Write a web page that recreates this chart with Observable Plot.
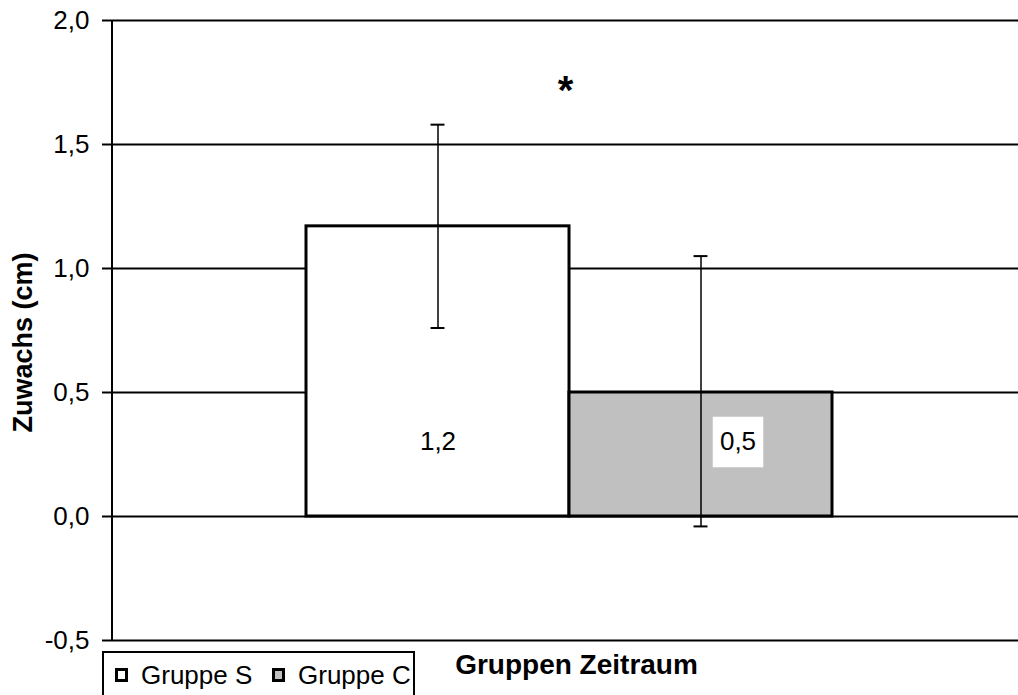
<!DOCTYPE html>
<html><head><meta charset="utf-8">
<script src="https://cdn.jsdelivr.net/npm/d3@7"></script>
<script src="https://cdn.jsdelivr.net/npm/@observablehq/plot@0.6"></script>
<style>
body{margin:0;background:#fff;font-family:"Liberation Sans",Arial,sans-serif;}
#wrap{position:relative;width:1018px;height:695px;overflow:hidden;background:#fff;}
#legend{position:absolute;left:102px;top:651px;width:309px;height:60px;border:2px solid #000;background:#fff;font-size:26px;line-height:26px;white-space:nowrap;}
#legend .item{position:absolute;top:9px;display:flex;align-items:center;}
#legend .sw{display:inline-block;width:7px;height:8px;border:3px solid #000;margin-right:13px;}
</style></head><body>
<div id="wrap"><div id="chart"></div><div id="legend"></div></div>
<script>
// ---- data ----
const groups = ["Gruppe S", "Gruppe C"];
const means = [1.17, 0.50];
const errLow = [0.76, -0.04];
const errHigh = [1.58, 1.05];
const fillColors = ["#ffffff", "#c0c0c0"];
const yTicks = [-0.5, 0.0, 0.5, 1.0, 1.5, 2.0];
const significance = [{symbol: "*", y: 1.74}];
const xTitle = "Gruppen Zeitraum";
const yTitle = "Zuwachs (cm)";

const fmt = d => d3.format(".1f")(d).replace(".", ",").replace("−", "-");
const rows = groups.map((g, i) => ({group: g, mean: means[i], lo: errLow[i], hi: errHigh[i], label: fmt(means[i])}));

const W = 1018, H = 695, mL = 112, mR = 0, mT = 20, mB = 55;
const padOuter = 0.722, align = 0.51;
const step = (W - mL - mR) / (groups.length + 2 * padOuter);
const capW = 14, capInset = (step - capW) / 2;
const labelY = 0.30;
const font = "'Liberation Sans', Arial, sans-serif";

const chart = Plot.plot({
  width: W, height: H,
  marginLeft: mL, marginRight: mR, marginTop: mT, marginBottom: mB,
  style: {fontFamily: font, fontSize: "26px", color: "#000", background: "#fff", overflow: "visible"},
  x: {type: "band", domain: groups, paddingInner: 0, paddingOuter: padOuter, align, axis: null},
  y: {domain: [-0.5, 2.0], axis: null},
  color: {domain: groups, range: fillColors},
  marks: [
    Plot.ruleY(yTicks, {stroke: "#000", strokeWidth: 2}),
    Plot.axisY({ticks: yTicks, tickSize: 10, tickPadding: 13, tickFormat: fmt, strokeWidth: 2, label: null, fontSize: 26}),
    (index, scales, values, dims) => {
      const line = document.createElementNS("http://www.w3.org/2000/svg", "line");
      line.setAttribute("x1", dims.marginLeft); line.setAttribute("x2", dims.marginLeft);
      line.setAttribute("y1", scales.y(yTicks[0])); line.setAttribute("y2", scales.y(yTicks[yTicks.length - 1]));
      line.setAttribute("stroke", "#000"); line.setAttribute("stroke-width", 2);
      return line;
    },
    Plot.barY(rows, {x: "group", y: "mean", fill: "group", stroke: "#000", strokeWidth: 3}),
    Plot.ruleX(rows, {x: "group", y1: "lo", y2: "hi", stroke: "#000", strokeWidth: 1.5}),
    Plot.tickY(rows, {x: "group", y: "hi", insetLeft: capInset, insetRight: capInset, stroke: "#000", strokeWidth: 2}),
    Plot.tickY(rows, {x: "group", y: "lo", insetLeft: capInset, insetRight: capInset, stroke: "#000", strokeWidth: 2}),
    Plot.text(rows.slice(0, 1), {x: "group", y: () => labelY, text: "label", fontSize: 26, fill: "#000"}),
    Plot.dot(rows.slice(1), {x: "group", y: () => labelY, dx: 37, symbol: "square", r: 28.5, fill: "#fff", stroke: null}),
    Plot.text(rows.slice(1), {x: "group", y: () => labelY, dx: 37, text: "label", fontSize: 26, fill: "#000"}),
    Plot.text(significance, {y: "y", text: "symbol", fontSize: 40, fontWeight: "bold", fill: "#000", dy: 6}),
    Plot.text([xTitle], {frameAnchor: "bottom", textAnchor: "middle", dx: 11, dy: 33, fontSize: 28, fontWeight: "bold", fill: "#000"}),
    Plot.text([yTitle], {frameAnchor: "left", textAnchor: "middle", rotate: -90, dx: -89, dy: 12, fontSize: 27, fontWeight: "bold", fill: "#000"})
  ]
});
document.getElementById("chart").appendChild(chart);

// legend
const legend = document.getElementById("legend");
const lefts = [11, 168];
groups.forEach((g, i) => {
  const it = document.createElement("div");
  it.className = "item";
  it.style.left = lefts[i] + "px";
  const sw = document.createElement("span");
  sw.className = "sw";
  sw.style.background = fillColors[i];
  it.appendChild(sw);
  it.appendChild(document.createTextNode(g));
  legend.appendChild(it);
});
</script>
</body></html>
